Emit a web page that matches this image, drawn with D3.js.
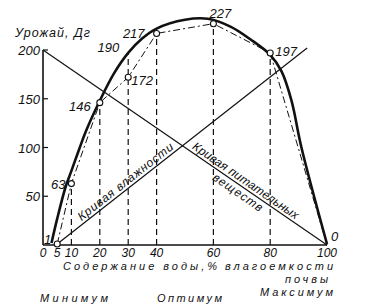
<!DOCTYPE html>
<html>
<head>
<meta charset="utf-8">
<script src="https://cdn.jsdelivr.net/npm/d3@7"></script>
<style>
  body { margin: 0; background: #fff; }
  text { font-family: "Liberation Sans", Arial, sans-serif; font-style: italic; fill: #111; }
</style>
</head>
<body>
<svg id="chart" width="379" height="305"></svg>
<script>
// measured yield points (water content %, yield)
const waterPct = [5, 10, 20, 30, 40, 60, 80, 100];
const yieldVals = [1, 63, 146, 172, 217, 227, 197, 0];

// bold envelope curve
const envelopeX = [3, 5, 8, 10, 12.7, 15, 20, 25, 30, 35, 40, 50, 58, 66, 73, 80, 84, 87.5, 91, 100];
const envelopeY = [2, 27, 60, 76, 98, 116, 148, 176, 197, 212, 222, 231, 232, 224, 211, 195, 178, 148, 100, 1];

// dashed verticals and how high they go
const dropX = [10, 20, 30, 40, 60, 80];
const dropTop = [63, 146, 197, 217, 227, 197];

const yTicks = [50, 100, 150, 200];
const xTicks = [0, 5, 10, 20, 30, 40, 60, 80, 100];

// straight lines
const moistureLine = [[5, 1], [93, 202]];
const nutrientLine = [[0, 200], [100, 0]];

// value labels: text, anchor point, placement
const valueLabels = [
  { t: "1",   x: 5,   y: 1,   dx: -6,  dy: 0,  a: "end" },
  { t: "63",  x: 10,  y: 63,  dx: -6,  dy: 5,  a: "end" },
  { t: "146", x: 20,  y: 146, dx: -9,  dy: 8,  a: "end" },
  { t: "172", x: 30,  y: 172, dx: 3,   dy: 8,  a: "start" },
  { t: "190", x: 30,  y: 197, dx: -9,  dy: -1, a: "end" },
  { t: "217", x: 40,  y: 217, dx: -12, dy: 5,  a: "end" },
  { t: "227", x: 60,  y: 227, dx: 7,   dy: -6, a: "middle" },
  { t: "197", x: 80,  y: 197, dx: 5,   dy: 3,  a: "start" },
  { t: "0",   x: 100, y: 0,   dx: 4,   dy: -4, a: "start" }
];

const svg = d3.select("#chart");
const ink = "#111";

const x = d3.scaleLinear().domain([0, 100]).range([43, 327]);
const y = d3.scaleLinear().domain([0, 200]).range([245, 50]);

// axes
svg.append("line")
  .attr("x1", x(0)).attr("x2", x(0)).attr("y1", y(0)).attr("y2", y(200))
  .attr("stroke", ink).attr("stroke-width", 1.6);
svg.append("line")
  .attr("x1", x(0)).attr("x2", x(100)).attr("y1", y(0)).attr("y2", y(0))
  .attr("stroke", ink).attr("stroke-width", 1.6);

svg.selectAll(".ytick").data(yTicks).enter().append("line")
  .attr("x1", x(0)).attr("x2", x(0) + 5)
  .attr("y1", d => y(d)).attr("y2", d => y(d))
  .attr("stroke", ink).attr("stroke-width", 1.2);

svg.selectAll(".ylab").data(yTicks).enter().append("text")
  .attr("x", x(0) - 3).attr("y", d => y(d) + 5)
  .attr("text-anchor", "end").attr("font-size", 13)
  .text(d => d);

svg.selectAll(".xlab").data(xTicks).enter().append("text")
  .attr("x", d => x(d)).attr("y", 257)
  .attr("text-anchor", "middle").attr("font-size", 12)
  .text(d => d);

svg.append("text").attr("x", 15).attr("y", 37).attr("font-size", 12.5)
  .attr("textLength", 75).text("Урожай, Дг");

// dashed drop lines
svg.selectAll(".drop").data(dropX).enter().append("line")
  .attr("x1", d => x(d)).attr("x2", d => x(d))
  .attr("y1", y(0)).attr("y2", (d, i) => y(dropTop[i]))
  .attr("stroke", ink).attr("stroke-width", 1.2)
  .attr("stroke-dasharray", "6,4");

// straight curves
const straight = d3.line().x(d => x(d[0])).y(d => y(d[1]));
[moistureLine, nutrientLine].forEach(l => {
  svg.append("path").attr("d", straight(l))
    .attr("fill", "none").attr("stroke", ink).attr("stroke-width", 1.2);
});

// dash-dot line through measured points
const pts = waterPct.map((w, i) => [w, yieldVals[i]]);
svg.append("path").attr("d", straight(pts))
  .attr("fill", "none").attr("stroke", ink).attr("stroke-width", 1)
  .attr("stroke-dasharray", "7,3,2,3");

// bold envelope
const env = envelopeX.map((v, i) => [v, envelopeY[i]]);
svg.append("path")
  .attr("d", d3.line().x(d => x(d[0])).y(d => y(d[1])).curve(d3.curveCatmullRom.alpha(0.5))(env))
  .attr("fill", "none").attr("stroke", ink).attr("stroke-width", 2.6);

svg.selectAll(".pt").data(pts.slice(0, 7)).enter().append("circle")
  .attr("cx", d => x(d[0])).attr("cy", d => y(d[1])).attr("r", 3)
  .attr("fill", "#fff").attr("stroke", ink).attr("stroke-width", 1.1);

svg.selectAll(".vlab").data(valueLabels).enter().append("text")
  .attr("x", d => x(d.x) + d.dx).attr("y", d => y(d.y) + d.dy)
  .attr("text-anchor", d => d.a).attr("font-size", 13)
  .text(d => d.t);

// rotated labels along the straight lines
function angleOf(l) {
  return Math.atan2(y(l[1][1]) - y(l[0][1]), x(l[1][0]) - x(l[0][0])) * 180 / Math.PI;
}
function pointOn(l, t) {
  return [x(l[0][0] + (l[1][0] - l[0][0]) * t), y(l[0][1] + (l[1][1] - l[0][1]) * t)];
}

const mp = pointOn(moistureLine, 0.29);
const mg = svg.append("g").attr("transform", `translate(${mp[0]},${mp[1]}) rotate(${angleOf(moistureLine)})`);
mg.append("text").attr("x", 0).attr("y", -3).attr("text-anchor", "middle")
  .attr("font-size", 12).attr("textLength", 118).text("Кривая влажности");

const np = pointOn(nutrientLine, 0.70);
const ng = svg.append("g").attr("transform", `translate(${np[0]},${np[1]}) rotate(${angleOf(nutrientLine)})`);
ng.append("text").attr("x", 0).attr("y", -3).attr("text-anchor", "middle")
  .attr("font-size", 12).attr("textLength", 126).text("Кривая питательных");
ng.append("text").attr("x", 0).attr("y", 11).attr("text-anchor", "middle")
  .attr("font-size", 12).attr("textLength", 58).text("веществ");

// bottom captions
svg.append("text").attr("x", 63).attr("y", 270).attr("font-size", 11)
  .attr("textLength", 154).text("Содержание воды,%");
svg.append("text").attr("x", 225).attr("y", 270).attr("font-size", 11)
  .attr("textLength", 108).text("влагоемкости");
svg.append("text").attr("x", 285).attr("y", 283).attr("font-size", 11)
  .attr("textLength", 43).text("почвы");
svg.append("text").attr("x", 40).attr("y", 302).attr("font-size", 11)
  .attr("textLength", 68).text("Минимум");
svg.append("text").attr("x", 157).attr("y", 302).attr("font-size", 11)
  .attr("textLength", 65).text("Оптимум");
svg.append("text").attr("x", 260).attr("y", 296).attr("font-size", 11)
  .attr("textLength", 73).text("Максимум");
</script>
</body>
</html>
